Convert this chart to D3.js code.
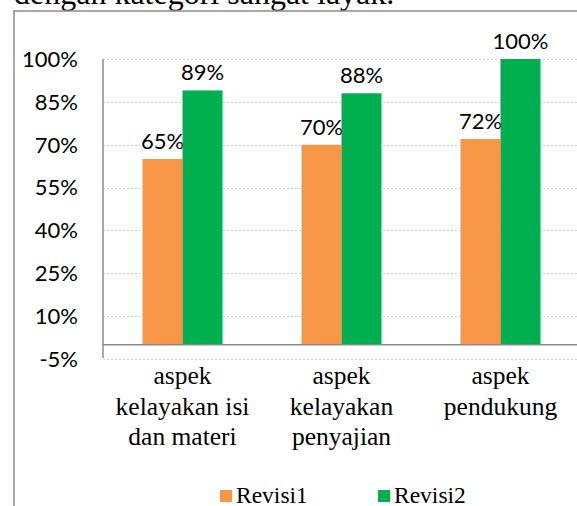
<!DOCTYPE html>
<html>
<head>
<meta charset="utf-8">
<script src="https://cdn.jsdelivr.net/npm/d3@7"></script>
<style>
  body { margin: 0; background: #fff; }
  svg { display: block; }
  .serif { font-family: "Liberation Serif", "Times New Roman", serif; }
  .sans { font-family: Lato, "Liberation Sans", sans-serif; }
</style>
</head>
<body>
<svg id="chart" width="577" height="506"></svg>
<script>
// data
const categories = [
    ["aspek", "kelayakan isi", "dan materi"],
    ["aspek", "kelayakan", "penyajian"],
    ["aspek", "pendukung"]
];
const series = ["Revisi1", "Revisi2"];
const revisi1 = [65, 70, 72];
const revisi2 = [89, 88, 100];
const yTicks = [-5, 10, 25, 40, 55, 70, 85, 100];

const color = {Revisi1: "#f79646", Revisi2: "#00b050"};

const svg = d3.select('#chart');

// text above chart (cut off at top)
svg.append('text')
    .attr('class', 'serif')
    .attr('x', 14)
    .attr('y', 4)
    .text('dengan kategori sangat layak.')
    .style('font-size', '32px')
    .style('fill', '#000');

// chart frame
svg.append('path')
    .attr('d', 'M14,506 V11 H577')
    .style('fill', 'none')
    .style('stroke', '#8c8c8c')
    .style('stroke-width', 1.5);

// plot area
const plot = {left: 103, right: 580, top: 59, bottom: 359};

const yScale = d3.scaleLinear()
    .domain([-5, 100])
    .range([plot.bottom, plot.top]);

const xScale = d3.scaleBand()
    .domain(d3.range(categories.length))
    .range([plot.left, plot.right]);

const bw = xScale.bandwidth();
const barW = 40;
const xSub = d3.scaleBand()
    .domain(series)
    .range([bw / 2 - barW, bw / 2 + barW]);

// grid lines
svg.append('g').selectAll('line').data(yTicks)
    .enter().append('line')
    .attr('x1', plot.left)
    .attr('x2', 577)
    .attr('y1', d => Math.round(yScale(d)) + 0.5)
    .attr('y2', d => Math.round(yScale(d)) + 0.5)
    .style('stroke', '#d0d0d0')
    .style('stroke-width', 1)
    .style('stroke-dasharray', '2,2');

// y tick labels
svg.append('g').selectAll('text').data(yTicks)
    .enter().append('text')
    .attr('class', 'sans')
    .attr('x', 78)
    .attr('y', d => yScale(d))
    .attr('dy', '0.36em')
    .attr('text-anchor', 'end')
    .text(d => d + '%')
    .style('font-size', '22px')
    .style('fill', '#000');

// bars
const values = {Revisi1: revisi1, Revisi2: revisi2};
const rows = [];
series.forEach(s => {
    values[s].forEach((v, i) => rows.push({s: s, i: i, v: v}));
});

const bars = svg.append('g').selectAll('g').data(rows)
    .enter().append('g');

bars.append('rect')
    .attr('x', d => xScale(d.i) + xSub(d.s))
    .attr('width', xSub.bandwidth())
    .attr('y', d => yScale(d.v))
    .attr('height', d => yScale(0) - yScale(d.v))
    .style('fill', d => color[d.s]);

bars.append('text')
    .attr('class', 'sans')
    .attr('x', d => xScale(d.i) + xSub(d.s) + xSub.bandwidth() / 2)
    .attr('y', d => yScale(d.v) - 10)
    .attr('text-anchor', 'middle')
    .text(d => d.v + '%')
    .style('font-size', '22px')
    .style('fill', '#000');

// axes lines
svg.append('line')
    .attr('x1', plot.left)
    .attr('x2', 577)
    .attr('y1', yScale(0))
    .attr('y2', yScale(0))
    .style('stroke', '#8c8c8c')
    .style('stroke-width', 1.5);

svg.append('line')
    .attr('x1', plot.left)
    .attr('x2', plot.left)
    .attr('y1', plot.top)
    .attr('y2', plot.bottom - 1)
    .style('stroke', '#8c8c8c')
    .style('stroke-width', 1.5);

// category labels
const cat = svg.append('g').selectAll('text').data(categories)
    .enter().append('text')
    .attr('class', 'serif')
    .attr('text-anchor', 'middle')
    .style('font-size', '25.5px')
    .style('fill', '#000');

cat.selectAll('tspan').data((d, i) => d.map(t => ({t: t, i: i})))
    .enter().append('tspan')
    .attr('x', d => xScale(d.i) + bw / 2)
    .attr('y', (d, j) => 384 + j * 30.5)
    .text(d => d.t);

// legend
const legX = [220, 378];
const leg = svg.append('g').selectAll('g').data(series)
    .enter().append('g')
    .attr('transform', (d, i) => `translate(${legX[i]},490)`);

leg.append('rect')
    .attr('width', 12)
    .attr('height', 12)
    .style('fill', d => color[d]);

leg.append('text')
    .attr('class', 'serif')
    .attr('x', 16)
    .attr('y', 12.5)
    .text(d => d)
    .style('font-size', '23.5px')
    .style('fill', '#000');
</script>
</body>
</html>
